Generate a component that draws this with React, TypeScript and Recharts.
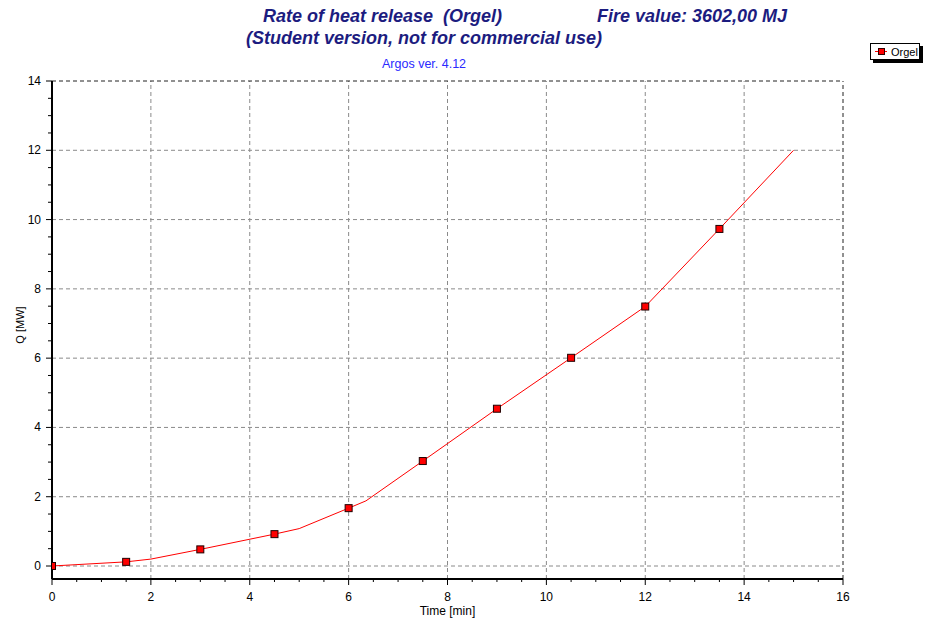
import React from 'react';
import { ComposedChart, Line, XAxis, YAxis, ReferenceLine, Legend, Label } from 'recharts';

const FONT = '"Liberation Sans", Arial, sans-serif';

const seriesName = 'Orgel';
const timeMin = [0, 1.5, 2, 3, 4.5, 5, 6, 6.35, 7.5, 9, 10.5, 12, 13.5, 15];
const heatMW = [0, 0.12, 0.2, 0.48, 0.92, 1.08, 1.67, 1.88, 3.03, 4.54, 6.01, 7.49, 9.73, 12];
const markerTimes = [0, 1.5, 3, 4.5, 6, 7.5, 9, 10.5, 12, 13.5];

const xMajorTicks = [0, 2, 4, 6, 8, 10, 12, 14, 16];
const yMajorTicks = [0, 2, 4, 6, 8, 10, 12, 14];
const xGridLines = [2, 4, 6, 8, 10, 12, 14];
const yGridLines = [0, 2, 4, 6, 8, 10, 12];

const titleLine1 = 'Rate of heat release  (Orgel)';
const titleFire = 'Fire value: 3602,00 MJ';
const titleLine2 = '(Student version, not for commercial use)';
const versionText = 'Argos ver. 4.12';

const minorStep = 0.5;
const buildMinor = (max: number) => {
  const out: number[] = [];
  for (let v = 0; v <= max + 1e-9; v += minorStep) out.push(Math.round(v * 10) / 10);
  return out;
};
const xTicks = buildMinor(16);
const yTicks = buildMinor(14);

const data = timeMin.map((t, i) => ({ t, q: heatMW[i], mark: markerTimes.includes(t) }));

const renderXTick = (p: any) => {
  const { x, y, payload, index } = p;
  const v = payload.value;
  const major = xMajorTicks.includes(v);
  return (
    <g key={`xt${index}`}>
      <line x1={x} x2={x} y1={y} y2={y + (major ? 6 : 3)} stroke="#000" strokeWidth={1} />
      {major && (
        <text x={x} y={y + 22} textAnchor="middle" fontSize={12} fontFamily={FONT} fill="#000">
          {v}
        </text>
      )}
    </g>
  );
};

const renderYTick = (p: any) => {
  const { x, y, payload, index } = p;
  const v = payload.value;
  const major = yMajorTicks.includes(v);
  return (
    <g key={`yt${index}`}>
      <line x1={x - (major ? 6 : 4)} x2={x} y1={y} y2={y} stroke="#000" strokeWidth={1} />
      {major && (
        <text x={x - 11} y={y + 4} textAnchor="end" fontSize={12} fontFamily={FONT} fill="#000">
          {v}
        </text>
      )}
    </g>
  );
};

const SquareDot = (props: any) => {
  const { cx, cy, payload, index } = props;
  if (!payload || !payload.mark) return <g key={`d${index}`} />;
  return (
    <rect
      key={`d${index}`}
      x={cx - 3.5}
      y={cy - 3.5}
      width={7}
      height={7}
      fill="#ff0000"
      stroke="#200000"
      strokeWidth={1}
    />
  );
};

const LegendContent = (props: any) => {
  const item = props.payload && props.payload[0];
  const name = item ? item.value : seriesName;
  return (
    <svg width={56} height={22} style={{ display: 'block' }}>
      <rect x={3} y={3} width={50} height={17} fill="#000" />
      <rect x={0.5} y={0.5} width={49} height={16} fill="#fff" stroke="#000" />
      <line x1={5} x2={17} y1={8.5} y2={8.5} stroke="#ff0000" />
      <rect x={8.5} y={5.5} width={6} height={6} fill="#ff0000" stroke="#300000" />
      <text x={21} y={12.5} fontSize={11} fontFamily={FONT} fill="#000">
        {name}
      </text>
    </svg>
  );
};

const YLabelContent = (props: any) => {
  const vb = props.viewBox || { x: 0, y: 0, width: 0, height: 0 };
  const cx = vb.x + 24;
  const cy = vb.y + vb.height / 2 - 5;
  return (
    <text
      x={cx}
      y={cy}
      transform={`rotate(-90 ${cx} ${cy})`}
      textAnchor="middle"
      fontSize={11}
      fontFamily={FONT}
      fill="#000"
    >
      Q [MW]
    </text>
  );
};

export default function App() {
  const titleStyle: React.CSSProperties = { whiteSpace: 'pre' };
  return (
    <div style={{ position: 'absolute', left: 0, top: 0, width: 926, height: 623, background: '#fff' }}>
      <ComposedChart
        width={926}
        height={623}
        data={data}
        margin={{ top: 81, right: 83, bottom: 0, left: 0 }}
      >
        <XAxis
          type="number"
          dataKey="t"
          domain={[0, 16]}
          ticks={xTicks}
          interval={0}
          tickSize={0}
          tickMargin={0}
          height={44}
          allowDataOverflow
          axisLine={{ stroke: '#000', strokeWidth: 2 }}
          tickLine={false}
          tick={renderXTick}
        >
          <Label value="Time [min]" position="insideBottom" offset={8} style={{ fontSize: 12, fill: '#000', fontFamily: FONT }} />
        </XAxis>
        <YAxis
          type="number"
          domain={[-0.375, 14]}
          ticks={yTicks}
          interval={0}
          tickSize={0}
          tickMargin={0}
          width={52}
          allowDataOverflow
          axisLine={{ stroke: '#000', strokeWidth: 2 }}
          tickLine={false}
          tick={renderYTick}
        >
          <Label content={YLabelContent} />
        </YAxis>
        {xGridLines.map((v) => (
          <ReferenceLine key={`gx${v}`} x={v} stroke="#8a8a8a" strokeDasharray="4 3" />
        ))}
        {yGridLines.map((v) => (
          <ReferenceLine key={`gy${v}`} y={v} stroke="#8a8a8a" strokeDasharray="4 3" />
        ))}
        <ReferenceLine y={14} stroke="#222" strokeDasharray="4 3" />
        <ReferenceLine x={16} stroke="#222" strokeDasharray="4 3" />
        <Line
          type="linear"
          dataKey="q"
          name={seriesName}
          stroke="#ff0000"
          strokeWidth={1}
          dot={SquareDot}
          activeDot={false}
          isAnimationActive={false}
        />
        <Legend
          layout="horizontal"
          verticalAlign="middle"
          align="center"
          wrapperStyle={{ position: 'absolute', left: 870, top: 43, width: 'auto', height: 'auto' }}
          content={LegendContent}
        />
      </ComposedChart>
      <svg
        width={926}
        height={80}
        style={{ position: 'absolute', left: 0, top: 0, pointerEvents: 'none' }}
      >
        <text x={263} y={22} fontSize={18} fontWeight="bold" fontStyle="italic" fontFamily={FONT} fill="#1c1c80" style={titleStyle}>
          {titleLine1}
        </text>
        <text x={597} y={22} fontSize={18} fontWeight="bold" fontStyle="italic" fontFamily={FONT} fill="#1c1c80" style={titleStyle}>
          {titleFire}
        </text>
        <text x={246} y={44} fontSize={18} fontWeight="bold" fontStyle="italic" fontFamily={FONT} fill="#1c1c80" style={titleStyle}>
          {titleLine2}
        </text>
        <text x={382} y={68} fontSize={12.5} fontFamily={FONT} fill="#2a2aff" style={titleStyle}>
          {versionText}
        </text>
      </svg>
    </div>
  );
}
